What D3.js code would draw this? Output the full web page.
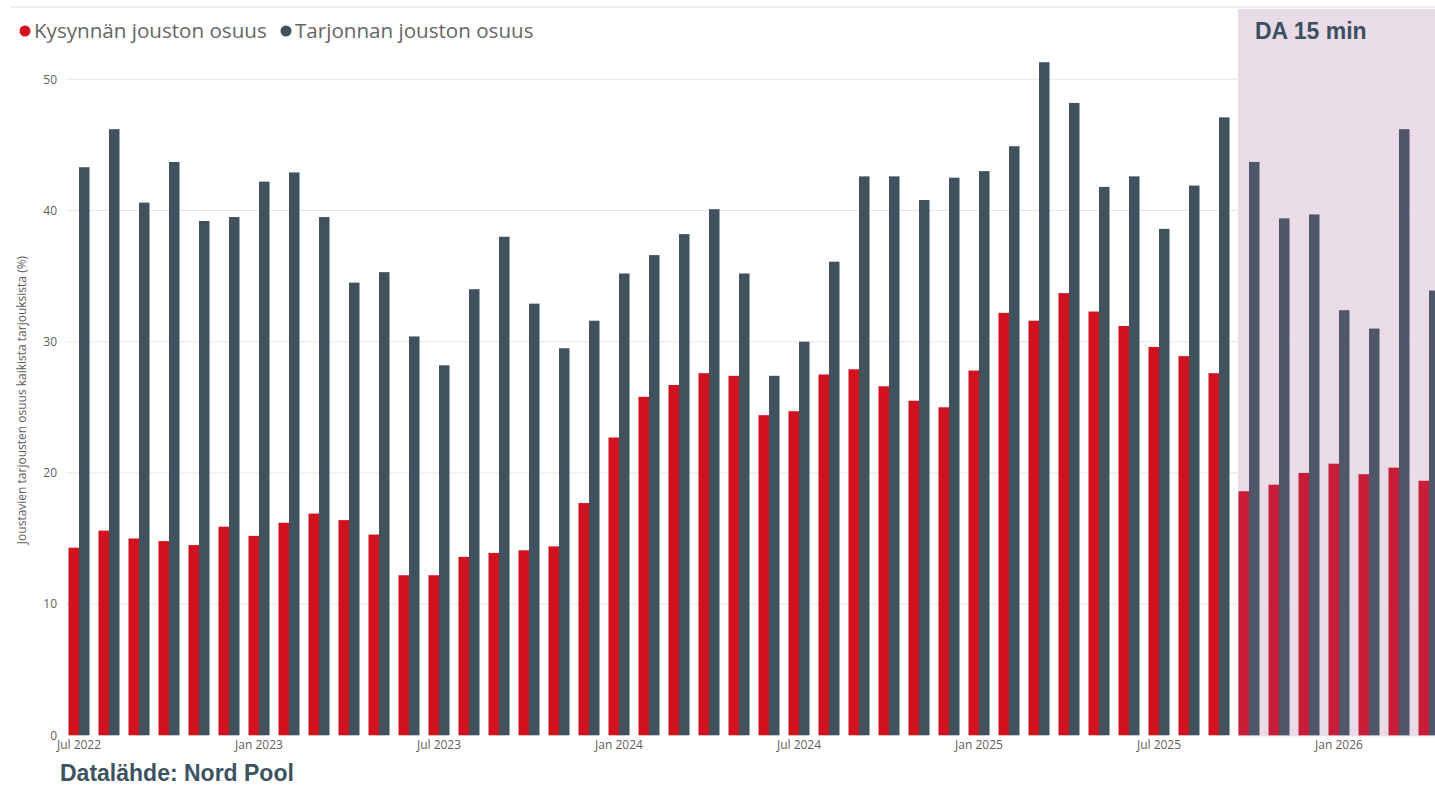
<!DOCTYPE html>
<html>
<head>
<meta charset="utf-8">
<script src="https://cdn.jsdelivr.net/npm/d3@7"></script>
<style>
  html, body { margin: 0; padding: 0; background: #fff; overflow: hidden; }
  svg { display: block; }
</style>
</head>
<body>
<svg id="chart" width="1435" height="786"></svg>
<script>
// ---- DATA ----
const months = [
  "2022-07","2022-08","2022-09","2022-10","2022-11","2022-12",
  "2023-01","2023-02","2023-03","2023-04","2023-05","2023-06",
  "2023-07","2023-08","2023-09","2023-10","2023-11","2023-12",
  "2024-01","2024-02","2024-03","2024-04","2024-05","2024-06",
  "2024-07","2024-08","2024-09","2024-10","2024-11","2024-12",
  "2025-01","2025-02","2025-03","2025-04","2025-05","2025-06",
  "2025-07","2025-08","2025-09","2025-10","2025-11","2025-12",
  "2026-01","2026-02","2026-03","2026-04"
];
const kysynta = [
  14.3, 15.6, 15.0, 14.8, 14.5, 15.9,
  15.2, 16.2, 16.9, 16.4, 15.3, 12.2,
  12.2, 13.6, 13.9, 14.1, 14.4, 17.7,
  22.7, 25.8, 26.7, 27.6, 27.4, 24.4,
  24.7, 27.5, 27.9, 26.6, 25.5, 25.0,
  27.8, 32.2, 31.6, 33.7, 32.3, 31.2,
  29.6, 28.9, 27.6, 18.6, 19.1, 20.0,
  20.7, 19.9, 20.4, 19.4
];
const tarjonta = [
  43.3, 46.2, 40.6, 43.7, 39.2, 39.5,
  42.2, 42.9, 39.5, 34.5, 35.3, 30.4,
  28.2, 34.0, 38.0, 32.9, 29.5, 31.6,
  35.2, 36.6, 38.2, 40.1, 35.2, 27.4,
  30.0, 36.1, 42.6, 42.6, 40.8, 42.5,
  43.0, 44.9, 51.3, 48.2, 41.8, 42.6,
  38.6, 41.9, 47.1, 43.7, 39.4, 39.7,
  32.4, 31.0, 46.2, 33.9
];
const seriesNames = ["Kysynnän jouston osuus", "Tarjonnan jouston osuus"];
const yTicks = [0, 10, 20, 30, 40, 50];
const xTickMonths = ["2022-07","2023-01","2023-07","2024-01","2024-07","2025-01","2025-07","2026-01"];
const monthNames = ["Jan","Feb","Mar","Apr","May","Jun","Jul","Aug","Sep","Oct","Nov","Dec"];
const daStart = "2025-10";
const daLabel = "DA 15 min";
const yTitle = "Joustavien tarjousten osuus kaikista tarjouksista (%)";
const sourceText = "Datalähde: Nord Pool";

// ---- STYLE ----
const colRed = "#d2111f", colDark = "#3f525e";
const colRedDA = "#c81d38", colDarkDA = "#50566a";
const textGray = "#605e5c";

const svg = d3.select("#chart");

const step = 30, pi = 0.3, po = 0.15, x0 = 64;
const x = d3.scaleBand()
  .domain(months)
  .range([x0, x0 + step * (months.length - pi + 2 * po)])
  .paddingInner(pi).paddingOuter(po);
const x1 = d3.scaleBand().domain([0, 1]).range([0, x.bandwidth()]);
const y = d3.scaleLinear().domain([0, 50]).range([735.3, 79.3]);

// top divider line
svg.append("line").attr("x1", 10).attr("x2", 1435).attr("y1", 7).attr("y2", 7)
  .attr("stroke", "#e8e8e8").attr("stroke-width", 1.5);

// DA shaded area
const daIdx = months.indexOf(daStart);
svg.append("rect")
  .attr("x", x(daStart) - 0.5).attr("y", 9)
  .attr("width", 1435 - x(daStart) + 1).attr("height", y(0) + 1 - 9)
  .attr("fill", "#eadce6");

// gridlines
svg.append("g").selectAll("line").data(yTicks.filter(d => d > 0)).join("line")
  .attr("x1", 66).attr("x2", 1435)
  .attr("y1", d => y(d)).attr("y2", d => y(d))
  .attr("stroke", "#e6e6e6").attr("stroke-width", 1);

// y axis
const yAxis = svg.append("g").attr("transform", "translate(60,0)")
  .call(d3.axisLeft(y).tickValues(yTicks).tickSize(0).tickPadding(3));
yAxis.select(".domain").remove();
yAxis.selectAll("text").attr("font-family", "'Open Sans', 'Noto Sans', sans-serif")
  .attr("font-size", 12).attr("fill", textGray);

// y title
svg.append("text")
  .attr("transform", `translate(26,400) rotate(-90)`)
  .attr("text-anchor", "middle")
  .attr("font-family", "'Open Sans', 'Noto Sans', sans-serif")
  .attr("font-size", 12).attr("fill", textGray)
  .text(yTitle);

// bars
const g = svg.append("g");
const rows = months.map((m, i) => ({ m, i, v: [kysynta[i], tarjonta[i]] }));
const grp = g.selectAll("g").data(rows).join("g")
  .attr("transform", d => `translate(${x(d.m)},0)`);
grp.selectAll("rect").data(d => d.v.map((v, k) => ({ v, k, da: d.i >= daIdx }))).join("rect")
  .attr("x", d => x1(d.k)).attr("width", x1.bandwidth())
  .attr("y", d => y(d.v)).attr("height", d => y(0) - y(d.v))
  .attr("fill", d => d.k === 0 ? (d.da ? colRedDA : colRed) : (d.da ? colDarkDA : colDark));

// x axis
const xAxis = svg.append("g").attr("transform", `translate(0,${y(0) + 3})`)
  .call(d3.axisBottom(x).tickValues(xTickMonths).tickSize(0).tickPadding(2)
    .tickFormat(m => monthNames[+m.slice(5) - 1] + " " + m.slice(0, 4)));
xAxis.select(".domain").remove();
xAxis.selectAll("text").attr("font-family", "'Open Sans', 'Noto Sans', sans-serif")
  .attr("font-size", 12).attr("fill", textGray);

// legend
const legend = svg.append("g");
const legX = [25, 286];
seriesNames.forEach((n, k) => {
  legend.append("circle").attr("cx", legX[k]).attr("cy", 31).attr("r", 5.5)
    .attr("fill", k === 0 ? colRed : colDark);
  legend.append("text").attr("x", legX[k] + 9).attr("y", 38)
    .attr("font-family", "'Open Sans', 'Noto Sans', sans-serif")
    .attr("font-size", 20.6).attr("fill", "#666")
    .text(n);
});

// DA label
svg.append("text").attr("x", 1255).attr("y", 39)
  .attr("font-family", "'Liberation Sans', Arial, sans-serif")
  .attr("font-weight", "bold").attr("font-size", 23).attr("fill", "#3b5060")
  .text(daLabel);

// source
svg.append("text").attr("x", 60).attr("y", 781)
  .attr("font-family", "'Liberation Sans', Arial, sans-serif")
  .attr("font-weight", "bold").attr("font-size", 23).attr("fill", "#3d5361")
  .text(sourceText);
</script>
</body>
</html>
